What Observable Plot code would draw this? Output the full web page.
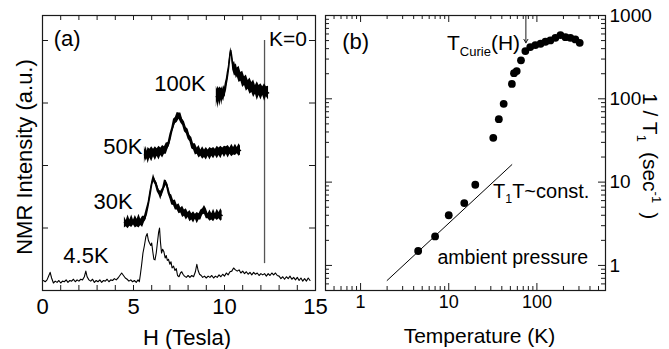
<!DOCTYPE html>
<html><head><meta charset="utf-8">
<script src="https://cdn.jsdelivr.net/npm/d3@7"></script>
<script src="https://cdn.jsdelivr.net/npm/@observablehq/plot@0.6"></script>
<style>
html,body{margin:0;padding:0;background:#fff;}
#chart{position:relative;width:669px;height:349px;overflow:hidden;}
#chart svg{position:absolute;top:0;}
</style></head><body><div id="chart"></div>
<script>
// ---------- Panel (a) data: NMR spectra, [H (T), intensity (a.u.)] ----------
const spec45 = [[0.05,0.16],[0.15,0.14],[0.25,0.17],[0.35,0.24],[0.42,0.29],[0.5,0.2],[0.6,0.12],[0.7,0.15],[0.8,0.13],[0.9,0.16],[1.0,0.12],[1.1,0.15],[1.2,0.14],[1.3,0.17],[1.4,0.13],[1.5,0.16],[1.6,0.15],[1.7,0.18],[1.8,0.14],[1.9,0.17],[2.0,0.15],[2.1,0.18],[2.2,0.17],[2.3,0.22],[2.38,0.31],[2.45,0.22],[2.55,0.17],[2.65,0.15],[2.75,0.18],[2.85,0.13],[2.95,0.16],[3.05,0.14],[3.15,0.17],[3.25,0.13],[3.35,0.16],[3.45,0.15],[3.55,0.18],[3.65,0.14],[3.75,0.17],[3.85,0.16],[3.95,0.19],[4.05,0.17],[4.15,0.2],[4.25,0.24],[4.35,0.28],[4.45,0.24],[4.55,0.2],[4.65,0.18],[4.75,0.15],[4.85,0.17],[4.95,0.14],[5.05,0.16],[5.15,0.13],[5.25,0.17],[5.32,0.14],[5.38,0.26],[5.45,0.42],[5.52,0.6],[5.6,0.72],[5.68,0.86],[5.75,0.91],[5.82,0.8],[5.88,0.76],[5.95,0.72],[6.0,0.76],[6.06,0.62],[6.12,0.5],[6.18,0.49],[6.25,0.6],[6.32,0.78],[6.38,0.93],[6.43,1.0],[6.48,0.78],[6.54,0.6],[6.6,0.66],[6.67,0.62],[6.74,0.52],[6.8,0.56],[6.86,0.48],[6.92,0.5],[7.0,0.42],[7.06,0.46],[7.12,0.36],[7.2,0.39],[7.28,0.32],[7.35,0.35],[7.42,0.24],[7.5,0.22],[7.58,0.28],[7.65,0.3],[7.72,0.26],[7.8,0.23],[7.9,0.21],[8.0,0.24],[8.1,0.21],[8.2,0.24],[8.3,0.22],[8.4,0.3],[8.48,0.42],[8.55,0.32],[8.63,0.26],[8.72,0.24],[8.8,0.21],[8.9,0.23],[9.0,0.2],[9.1,0.23],[9.2,0.21],[9.3,0.24],[9.4,0.2],[9.5,0.23],[9.6,0.21],[9.7,0.25],[9.8,0.22],[9.9,0.26],[10.0,0.23],[10.1,0.28],[10.2,0.25],[10.3,0.3],[10.4,0.31],[10.5,0.36],[10.6,0.33],[10.7,0.31],[10.8,0.33],[10.9,0.28],[11.0,0.31],[11.1,0.27],[11.2,0.3],[11.3,0.26],[11.4,0.29],[11.5,0.25],[11.6,0.29],[11.7,0.26],[11.8,0.28],[11.9,0.24],[12.0,0.27],[12.1,0.25],[12.2,0.27],[12.3,0.23],[12.4,0.27],[12.5,0.24],[12.6,0.28],[12.7,0.25],[12.8,0.28],[12.9,0.24],[13.0,0.23],[13.1,0.19],[13.2,0.22],[13.3,0.18],[13.4,0.22],[13.5,0.19],[13.6,0.23],[13.7,0.18],[13.8,0.21],[13.9,0.17],[14.0,0.21],[14.1,0.16],[14.2,0.2],[14.3,0.15],[14.4,0.19],[14.5,0.15],[14.6,0.2],[14.7,0.16]];
// noisy traces: [H, centre, noise half-width]
const spec30 = [[4.5,1.09,.09],[4.6,1.07,.05],[4.7,1.10,.11],[4.8,1.08,.05],[4.9,1.11,.10],[5.0,1.09,.04],[5.1,1.10,.10],[5.2,1.08,.06],[5.3,1.11,.11],[5.4,1.09,.05],[5.5,1.10,.09],[5.6,1.14,.05],[5.7,1.22,.08],[5.8,1.36,.05],[5.9,1.52,.07],[6.0,1.70,.04],[6.1,1.80,.06],[6.2,1.73,.04],[6.3,1.65,.07],[6.4,1.57,.04],[6.5,1.52,.07],[6.6,1.60,.04],[6.7,1.70,.07],[6.8,1.72,.04],[6.9,1.62,.07],[7.0,1.51,.04],[7.1,1.45,.08],[7.2,1.40,.04],[7.3,1.37,.08],[7.4,1.33,.04],[7.5,1.31,.08],[7.6,1.28,.04],[7.7,1.26,.09],[7.8,1.24,.05],[7.9,1.22,.09],[8.0,1.21,.04],[8.1,1.19,.09],[8.2,1.18,.05],[8.3,1.17,.09],[8.4,1.18,.04],[8.5,1.16,.09],[8.6,1.18,.05],[8.7,1.21,.08],[8.8,1.26,.05],[8.9,1.29,.07],[9.0,1.23,.08],[9.1,1.19,.04],[9.2,1.20,.09],[9.3,1.18,.05],[9.4,1.20,.10],[9.5,1.19,.04],[9.6,1.21,.09],[9.7,1.20,.05],[9.8,1.21,.10],[9.87,1.20,.07]];
const spec50 = [[5.6,2.17,.14],[5.65,2.18,.07],[5.7,2.19,.12],[5.75,2.17,.06],[5.8,2.16,.13],[5.9,2.19,.07],[6.0,2.18,.12],[6.1,2.20,.06],[6.2,2.19,.11],[6.3,2.21,.06],[6.4,2.20,.11],[6.5,2.22,.06],[6.6,2.22,.10],[6.7,2.24,.06],[6.8,2.27,.09],[6.9,2.32,.05],[7.0,2.42,.08],[7.1,2.55,.05],[7.2,2.66,.08],[7.3,2.72,.05],[7.4,2.77,.08],[7.5,2.79,.05],[7.6,2.76,.08],[7.7,2.69,.05],[7.8,2.62,.08],[7.9,2.56,.05],[8.0,2.50,.08],[8.1,2.43,.05],[8.2,2.36,.09],[8.3,2.30,.05],[8.4,2.26,.09],[8.5,2.23,.05],[8.6,2.22,.10],[8.7,2.20,.05],[8.8,2.20,.10],[8.9,2.19,.06],[9.0,2.19,.10],[9.1,2.20,.05],[9.2,2.19,.10],[9.3,2.21,.06],[9.4,2.20,.09],[9.5,2.21,.05],[9.6,2.21,.10],[9.7,2.22,.06],[9.8,2.21,.10],[9.9,2.23,.05],[10.0,2.22,.09],[10.1,2.24,.06],[10.2,2.22,.10],[10.3,2.23,.05],[10.4,2.24,.10],[10.5,2.23,.06],[10.6,2.25,.09],[10.7,2.24,.05],[10.8,2.25,.10],[10.88,2.24,.07]];
const spec100 = [[9.55,3.10,.17],[9.6,3.12,.10],[9.65,3.09,.18],[9.7,3.13,.10],[9.75,3.10,.16],[9.8,3.14,.09],[9.85,3.11,.15],[9.9,3.14,.08],[9.95,3.15,.13],[10.0,3.17,.08],[10.05,3.22,.11],[10.1,3.32,.07],[10.15,3.40,.09],[10.2,3.50,.06],[10.25,3.62,.07],[10.3,3.76,.05],[10.35,3.84,.05],[10.4,3.74,.05],[10.45,3.62,.09],[10.5,3.56,.08],[10.55,3.55,.12],[10.6,3.53,.08],[10.65,3.51,.12],[10.7,3.49,.07],[10.8,3.46,.13],[10.9,3.42,.07],[11.0,3.38,.13],[11.1,3.35,.07],[11.2,3.32,.13],[11.3,3.29,.07],[11.4,3.27,.13],[11.5,3.25,.08],[11.6,3.23,.14],[11.7,3.21,.07],[11.8,3.19,.15],[11.9,3.20,.08],[12.0,3.18,.13],[12.1,3.19,.07],[12.2,3.17,.14],[12.3,3.18,.08],[12.42,3.16,.11]];
const hMajor = [0, 5, 10, 15];
const hMinor = [0,1,2,3,4,5,6,7,8,9,10,11,12,13,14,15];
const intTicks = [1, 2, 3, 4];
const kZero = 12.2;

// ---------- Panel (b) data: 1/T1 vs temperature ----------
const temps = [4.5, 7, 10, 15, 20, 32, 37, 42, 52, 55, 59, 66, 74, 84, 96, 110, 125, 142, 162, 185, 211, 240, 273, 306];
const rates = [1.49, 2.23, 4.0, 5.6, 9.3, 34, 57, 87, 151, 203, 215, 290, 374, 418, 441, 458, 484, 502, 540, 582, 550, 540, 516, 470];
const fitT = [2, 52];
const fitR = [0.66, 16.2];
const tCurie = 75;
const tMajor = [1, 10, 100];
const tMinor = [0.4,0.5,0.6,0.7,0.8,0.9,2,3,4,5,6,7,8,9,20,30,40,50,60,70,80,90,200,300,400,500,600];
const rMajor = [1, 10, 100, 1000];
const rMinor = [0.5,0.6,0.7,0.8,0.9,2,3,4,5,6,7,8,9,20,30,40,50,60,70,80,90,200,300,400,500,600,700,800,900];

const FONT = "'Liberation Sans', Arial, Helvetica, sans-serif";
const INK = "#1a1a1a";

function band(data) {
  return [
    Plot.areaY(data, {x: d => d[0], y1: d => d[1] - d[2], y2: d => d[1] + d[2], fill: "black"}),
    Plot.line(data, {x: d => d[0], y: d => d[1], stroke: "black", strokeWidth: 1.5})
  ];
}

// ---------- Panel (a) ----------
const A = {w: 320, h: 349, ml: 42, mr: 5, mt: 15, mb: 59};
const fAh = A.h - A.mt - A.mb, fAw = A.w - A.ml - A.mr;
const panelA = Plot.plot({
  width: A.w, height: A.h,
  marginLeft: A.ml, marginRight: A.mr, marginTop: A.mt, marginBottom: A.mb,
  style: {background: "transparent", overflow: "visible", fontFamily: FONT, color: "black"},
  x: {domain: [0, 15]},
  y: {domain: [0, 4.4], axis: null},
  marks: [
    Plot.ruleX([kZero], {y1: 0.43, y2: 4.0, stroke: "#555", strokeWidth: 1.3}),
    Plot.line(spec45, {x: d => d[0], y: d => d[1], stroke: "black", strokeWidth: 1.1}),
    ...band(spec30), ...band(spec50), ...band(spec100),
    Plot.text(["(a)"], {x: 0.62, y: 4.02, textAnchor: "start", fontSize: 22}),
    Plot.text(["K=0"], {x: 12.44, y: 4.02, textAnchor: "start", fontSize: 21}),
    Plot.text(["100K"], {x: 8.96, y: 3.31, textAnchor: "end", fontSize: 22}),
    Plot.text(["50K"], {x: 5.49, y: 2.3, textAnchor: "end", fontSize: 22}),
    Plot.text(["30K"], {x: 4.95, y: 1.42, textAnchor: "end", fontSize: 22}),
    Plot.text(["4.5K"], {x: 3.63, y: 0.56, textAnchor: "end", fontSize: 22}),
    Plot.frame({stroke: INK, strokeWidth: 1.2}),
    Plot.tickX(hMinor, {x: d => d, insetTop: fAh - 5, stroke: INK}),
    Plot.tickX(hMinor, {x: d => d, insetBottom: fAh - 5, stroke: INK}),
    Plot.tickY(intTicks, {y: d => d, insetRight: fAw - 6, stroke: INK}),
    Plot.tickY(intTicks, {y: d => d, insetLeft: fAw - 6, stroke: INK}),
    Plot.axisX({ticks: hMajor, tickSize: 0, tickPadding: 8, fontSize: 22, label: null, tickFormat: d => String(d)}),
    Plot.text(["H (Tesla)"], {frameAnchor: "bottom", textAnchor: "middle", lineAnchor: "middle", dx: 8, dy: 47, fontSize: 22}),
    Plot.text(["NMR Intensity (a.u.)"], {frameAnchor: "left", textAnchor: "middle", lineAnchor: "middle", dx: -18, dy: 4, rotate: -90, fontSize: 22})
  ]
});

// ---------- Panel (b) ----------
const B = {w: 349, h: 349, ml: 5, mr: 64, mt: 15, mb: 59};
const fBh = B.h - B.mt - B.mb, fBw = B.w - B.ml - B.mr;
const pts = temps.map((t, i) => ({t, r: rates[i]}));
const fit = fitT.map((t, i) => ({t, r: fitR[i]}));
const panelB = Plot.plot({
  width: B.w, height: B.h,
  marginLeft: B.ml, marginRight: B.mr, marginTop: B.mt, marginBottom: B.mb,
  style: {background: "transparent", overflow: "visible", fontFamily: FONT, color: "black"},
  x: {type: "log", domain: [0.4, 600]},
  y: {type: "log", domain: [0.5, 1000]},
  marks: [
    Plot.frame({stroke: INK, strokeWidth: 1.2}),
    Plot.tickX(tMajor, {x: d => d, insetTop: fBh - 7, stroke: INK}),
    Plot.tickX(tMinor, {x: d => d, insetTop: fBh - 4, stroke: INK}),
    Plot.tickX(tMajor, {x: d => d, insetBottom: fBh - 7, stroke: INK}),
    Plot.tickX(tMinor, {x: d => d, insetBottom: fBh - 4, stroke: INK}),
    Plot.tickY(rMajor, {y: d => d, insetRight: fBw - 7, stroke: INK}),
    Plot.tickY(rMinor, {y: d => d, insetRight: fBw - 4, stroke: INK}),
    Plot.tickY(rMajor, {y: d => d, insetLeft: fBw - 7, stroke: INK}),
    Plot.tickY(rMinor, {y: d => d, insetLeft: fBw - 4, stroke: INK}),
    Plot.axisX({ticks: tMajor, tickSize: 0, tickPadding: 5, fontSize: 18, label: null, tickFormat: d => String(d)}),
    Plot.axisY({anchor: "right", ticks: rMajor, tickSize: 0, tickPadding: 4, fontSize: 19, label: null, tickFormat: d => String(d)}),
    Plot.line(fit, {x: "t", y: "r", stroke: "black", strokeWidth: 1}),
    Plot.dot(pts, {x: "t", y: "r", r: 3.9, fill: "black", stroke: "none"}),
    Plot.arrow([tCurie], {x1: d => d, x2: d => d, y1: 1000, y2: 470, stroke: INK, strokeWidth: 1, headLength: 6}),
    Plot.text(["(b)"], {x: 0.62, y: 479, textAnchor: "start", fontSize: 22}),
    Plot.text(["ambient pressure"], {x: 7.45, y: 1.23, textAnchor: "start", fontSize: 19.5}),
    Plot.text(["Temperature (K)"], {frameAnchor: "bottom", textAnchor: "middle", lineAnchor: "middle", dx: 14, dy: 46, fontSize: 21})
  ]
});

function rich(svg, x, y, parts, size, rotate = 0) {
  const t = d3.select(svg).append("text")
    .attr("transform", `translate(${x},${y}) rotate(${rotate})`)
    .attr("text-anchor", "start")
    .attr("font-family", FONT).attr("font-size", size).attr("fill", "black");
  let cur = 0;
  for (const [s, kind, dx] of parts) {
    const shift = kind === "sub" ? 0.28 * size : kind === "sup" ? -0.42 * size : 0;
    const sp = t.append("tspan").attr("dy", shift - cur).attr("fill", "black")
      .attr("font-size", kind ? size * 0.62 : size).text(s);
    if (dx) sp.attr("dx", dx);
    cur = shift;
  }
}
const sx = panelB.scale("x"), sy = panelB.scale("y");
rich(panelB, sx.apply(9.67), sy.apply(384), [["T"], ["Curie", "sub"], ["(H)"]], 21);
rich(panelB, sx.apply(32.2), sy.apply(6.43), [["T"], ["1", "sub"], ["T~const."]], 20);
rich(panelB, B.w - B.mr + 38, 93, [["1 / T"], ["1", "sub"], ["(sec", null, 10], ["-1", "sup"], [")", null, 9]], 21, 90);

const chart = document.getElementById("chart");
panelA.style.left = "0px";
panelB.style.left = "320px";
chart.appendChild(panelA);
chart.appendChild(panelB);
</script></body></html>
